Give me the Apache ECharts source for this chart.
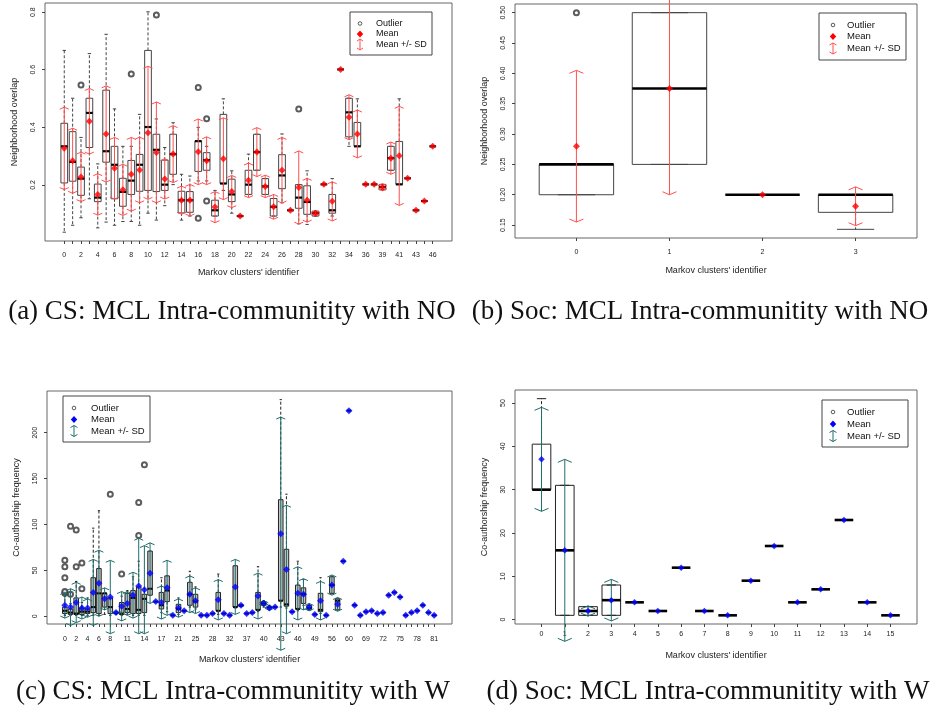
<!DOCTYPE html>
<html><head><meta charset="utf-8">
<script src="https://cdn.jsdelivr.net/npm/echarts@6/dist/echarts.min.js"></script>
<style>html,body{margin:0;padding:0;background:#fff}#c{width:933px;height:713px}</style>
</head><body><div id="c"></div><script>
// ---------- Panel (a): CS, NO ----------
const aLabels = ['0','1','2','3','4','5','6','7','8','9','10','11','12','13','14','15','16','17','18','19','20','21','22','23','24','25','26','27','28','29','30','31','32','33','34','35','36','37','39','40','41','42','43','45','46'];
const aLow  = [.036,.060,.086,.152,.051,.071,.060,.073,.073,.060,.102,.078,.128,.201,.078,.092,.214,.214,.092,.181,.102,.092,.167,.251,.167,.092,.138,.112,.065,.063,.092,.202,.092,.601,.334,.334,.202,.202,.183,.251,.202,.223,.112,.144,.334];
const aQ1   = [.207,.213,.164,.330,.142,.279,.152,.126,.167,.178,.181,.177,.181,.237,.103,.105,.247,.251,.092,.205,.142,.092,.167,.251,.167,.092,.187,.112,.119,.098,.092,.202,.102,.601,.367,.334,.202,.202,.183,.251,.202,.223,.112,.144,.334];
const aMed  = [.334,.280,.222,.450,.156,.317,.270,.176,.215,.270,.401,.322,.201,.307,.147,.147,.352,.286,.112,.205,.167,.092,.201,.314,.195,.124,.233,.112,.156,.141,.102,.202,.112,.601,.452,.334,.202,.202,.193,.293,.202,.223,.112,.144,.334];
const aQ3   = [.414,.385,.262,.501,.203,.529,.334,.223,.285,.306,.667,.376,.286,.376,.178,.177,.352,.312,.147,.445,.220,.092,.251,.376,.222,.153,.305,.112,.201,.197,.109,.202,.167,.601,.501,.417,.202,.202,.202,.334,.351,.223,.112,.144,.334];
const aHigh = [.667,.501,.365,.656,.273,.723,.464,.334,.334,.445,.801,.429,.330,.416,.237,.231,.400,.334,.181,.499,.249,.092,.307,.376,.222,.153,.377,.112,.201,.249,.109,.202,.222,.601,.501,.499,.202,.202,.202,.334,.499,.223,.112,.144,.334];
const aMean = [.327,.284,.228,.421,.167,.377,.258,.183,.237,.252,.381,.313,.221,.307,.147,.147,.315,.284,.123,.291,.177,.092,.216,.314,.195,.124,.251,.112,.191,.147,.102,.202,.143,.601,.435,.377,.202,.202,.192,.293,.301,.223,.112,.144,.334];
const aSD   = [.143,.113,.086,.114,.072,.167,.107,.089,.128,.114,.231,.175,.070,.099,.049,.055,.114,.083,.054,.142,.056,0,.060,.085,.039,.043,.114,0,.127,.076,.009,0,.068,0,.078,.083,0,0,.012,.056,.172,0,0,0,0];
const aOutliers = [[2,.547],[8,.585],[11,.790],[16,.538],[16,.084],[17,.430],[17,.144],[28,.464]];
const aYTicks = [0.2,0.4,0.6,0.8];

// ---------- Panel (b): Soc, NO ----------
const bLabels = ['0','1','2','3'];
const bLow  = [0.20,0.25,0.20,0.143];
const bQ1   = [0.20,0.25,0.20,0.171];
const bMed  = [0.25,0.375,0.20,0.20];
const bQ3   = [0.25,0.50,0.20,0.20];
const bHigh = [0.25,0.50,0.20,0.20];
const bMean = [0.28,0.375,0.20,0.181];
const bSD   = [0.125,0.175,0,0.032];
const bOutliers = [[0,0.50]];
const bYTicks = [0.15,0.20,0.25,0.30,0.35,0.40,0.45,0.50];

// ---------- Panel (c): CS, W ----------
const cLabels = ['0','1','2','3','4','5','6','7','8','9','10','11','12','13','14','15','16','17','19','20','21','23','24','25','26','27','28','30','31','32','34','35','37','38','39','40','41','42','43','44','45','46','47','48','49','51','53','56','58','59','60','63','66','69','70','71','72','73','74','75','76','77','78','79','80','81'];
const cLow  = [1,1,1,1,1,1,1,2,1,2,1,2,1,1,1,23,16,4,5,1,2,6,10,8,1,1,3,2,3,1,9,11,3,4,5,10,8,10,10,9,5,6,12,7,2,3,1,25,7,60,224,12,1,5,6,3,4,23,26,21,1,4,6,12,4,1];
const cQ1   = [3,2,2,2,3,4,3,10,3,3,2,4,3,3,4,23,16,8,16,1,4,6,12,10,1,1,3,6,3,1,10,11,3,4,7,12,9,10,17,11,5,8,14,7,2,5,1,25,7,60,224,12,1,5,6,3,4,23,26,21,1,4,6,12,4,1];
const cMed  = [6,4,3,5,5,10,25,25,10,4,3,8,20,7,19,30,16,12,28,1,8,6,24,16,1,1,3,6,3,1,10,12,3,4,7,14,10,10,17,13,5,8,24,9,2,7,1,34,17,60,224,12,1,5,6,3,4,23,26,21,1,4,6,12,4,1];
const cQ3   = [10,8,20,9,8,42,52,25,20,4,15,25,28,32,24,71,16,26,44,1,13,6,37,24,1,1,3,26,3,1,55,12,3,4,26,16,11,10,127,73,5,34,31,12,2,25,1,43,19,60,224,12,1,5,6,3,4,23,26,21,1,4,6,12,4,1];
const cHigh = [22,14,38,15,20,96,115,25,20,5,22,28,43,60,30,71,16,42,44,1,20,6,49,32,1,1,3,46,3,1,55,12,3,4,54,17,12,10,236,133,5,60,40,12,2,42,1,43,19,60,224,12,1,5,6,3,4,23,26,21,1,4,6,12,4,1];
const cMean = [12,10,15,9,9,26,36,19,21,4,11,14,23,33,29,47,16,15,31,1,9,6,24,17,1,1,3,18,3,1,32,12,3,4,22,14,9,10,90,51,5,25,24,10,2,17,1,34,13,60,224,12,1,5,6,3,4,23,26,21,1,4,6,12,4,1];
const cSD   = [14,20,22,12,10,36,36,12,40,1,16,13,25,52,48,33,0,18,30,0,10,0,20,14,0,0,0,22,0,0,30,0,0,0,25,3,2.5,0,127,70,0,29,17,4,0,21,0,11,7.5,0,0,0,0,0,0,0,0,0,0,0,0,0,0,0,0,0];
const cOutliers = [[0,25],[0,27],[0,42],[0,54],[0,61],[1,24],[1,98],[2,54],[2,94],[3,30],[3,58],[8,133],[10,46],[13,88],[13,124],[14,165]];
const cYTicks = [0,50,100,150,200];

// ---------- Panel (d): Soc, W ----------
const dLabels = ['0','1','2','3','4','5','6','7','8','9','10','11','12','13','14','15'];
const dLow  = [30,1,1,1,4,2,12,2,1,9,17,4,7,23,4,1];
const dQ1   = [30,1,1,1,4,2,12,2,1,9,17,4,7,23,4,1];
const dMed  = [30,16,2,4.5,4,2,12,2,1,9,17,4,7,23,4,1];
const dQ3   = [40.5,31,3,8,4,2,12,2,1,9,17,4,7,23,4,1];
const dHigh = [51,31,3,8,4,2,12,2,1,9,17,4,7,23,4,1];
const dMean = [37,16,2,4.5,4,2,12,2,1,9,17,4,7,23,4,1];
const dSD   = [12,21,1.2,4.8,0,0,0,0,0,0,0,0,0,0,0,0];
const dOutliers = [];
const dYTicks = [0,10,20,30,40,50];

// ---------- helpers ----------
const FONT = 'Liberation Sans';
function rLim(lo, hi, outs){
  let mn = Math.min(...lo, ...outs.map(o=>o[1]));
  let mx = Math.max(...hi, ...outs.map(o=>o[1]));
  const p = (mx-mn)*0.04; return [mn-p, mx+p];
}
function renderBox(o){
  return function(params, api){
    const i=api.value(0), lo=api.value(1), q1=api.value(2), md=api.value(3), q3=api.value(4), hi=api.value(5);
    const hw = api.size([0.8,0])[0]/2, sw = hw/2;
    const x = api.coord([i, md])[0];
    const Y = v => api.coord([i, v])[1];
    const ch = [];
    const st = {stroke:o.stroke, lineWidth:1};
    if (hi > q3) ch.push({type:'line', shape:{x1:x,y1:Y(q3),x2:x,y2:Y(hi)}, style:{stroke:o.stroke,lineWidth:1,lineDash:[3,2]}});
    if (lo < q1) ch.push({type:'line', shape:{x1:x,y1:Y(q1),x2:x,y2:Y(lo)}, style:{stroke:o.stroke,lineWidth:1,lineDash:[3,2]}});
    ch.push({type:'line', shape:{x1:x-sw,y1:Y(hi),x2:x+sw,y2:Y(hi)}, style:st});
    ch.push({type:'line', shape:{x1:x-sw,y1:Y(lo),x2:x+sw,y2:Y(lo)}, style:st});
    if (q3 > q1) ch.push({type:'rect', shape:{x:x-hw,y:Y(q3),width:2*hw,height:Y(q1)-Y(q3)}, style:{fill:o.fill,stroke:o.stroke,lineWidth:1}});
    ch.push({type:'line', shape:{x1:x-hw,y1:Y(md),x2:x+hw,y2:Y(md)}, style:{stroke:'#000',lineWidth:o.medW}});
    return {type:'group', children:ch};
  };
}
function renderSD(o){
  return function(params, api){
    const i=api.value(0), mu=api.value(1), s=api.value(2);
    if (!(s>0)) return {type:'group', children:[]};
    const x=api.coord([i,mu])[0], yt=api.coord([i,mu+s])[1], yb=api.coord([i,mu-s])[1];
    const w=o.aw, h=o.ah, st={stroke:o.color,lineWidth:1,fill:null};
    return {type:'group', children:[
      {type:'line', shape:{x1:x,y1:yt,x2:x,y2:yb}, style:st},
      {type:'polyline', shape:{points:[[x-w,yt+h],[x,yt],[x+w,yt+h]]}, style:st},
      {type:'polyline', shape:{points:[[x-w,yb-h],[x,yb],[x+w,yb-h]]}, style:st}
    ]};
  };
}
function panelSeries(k, labels, lo, q1, md, q3, hi, mean, sd, outs, o){
  const boxData = labels.map((l,i)=>[i, lo[i], q1[i], md[i], q3[i], hi[i]]);
  const sdData = labels.map((l,i)=>[i, mean[i], sd[i]]);
  const mData = labels.map((l,i)=>[i, mean[i]]);
  return [
    {type:'custom', xAxisIndex:k, yAxisIndex:k, renderItem:renderBox(o), data:boxData, z:2, silent:true},
    {type:'scatter', xAxisIndex:k, yAxisIndex:k, data:outs, symbol:'emptyCircle', symbolSize:o.outSize,
      itemStyle:{color:'#333', borderWidth:0.8}, z:3, silent:true},
    {type:'custom', xAxisIndex:k, yAxisIndex:k, renderItem:renderSD(o), data:sdData, z:4, silent:true},
    {type:'scatter', xAxisIndex:k, yAxisIndex:k, data:mData, symbol:'diamond', symbolSize:o.meanSize,
      itemStyle:{color:o.meanColor}, z:5, silent:true}
  ];
}
function xAxisFor(k, labels, showIdx, o){
  const n = labels.length;
  return {type:'value', gridIndex:k, min:-0.5-0.04*n, max:n-0.5+0.04*n,
    axisLine:{show:false, onZero:false}, splitLine:{show:false},
    axisTick:{show:true, customValues:labels.map((l,i)=>i), length:3, lineStyle:{color:'#444'}},
    axisLabel:{customValues:showIdx, formatter:v=>labels[Math.round(v)], fontSize:7, color:'#222', margin:o.lm, fontFamily:FONT},
    name:"Markov clusters' identifier", nameLocation:'middle', nameGap:o.ng,
    nameTextStyle:{fontSize:9, color:'#222', fontFamily:FONT}};
}
function yAxisFor(k, lim, ticks, dec, name, o){
  return {type:'value', gridIndex:k, min:lim[0], max:lim[1],
    axisLine:{show:false, onZero:false}, splitLine:{show:false},
    axisTick:{show:true, customValues:ticks, length:3, lineStyle:{color:'#444'}},
    axisLabel:{customValues:ticks, rotate:90, formatter:v=>Number(v).toFixed(dec), fontSize:7, color:'#222', margin:o.lm, fontFamily:FONT},
    name:name, nameLocation:'middle', nameGap:o.ng, nameRotate:90,
    nameTextStyle:{fontSize:9, color:'#222', fontFamily:FONT}};
}
function legend(x1,y1,x2,y2,symX,txtX,rows,meanColor,sdColor,fs,aw){
  const ch = [{type:'rect', shape:{x:x1,y:y1,width:x2-x1,height:y2-y1}, style:{fill:'#fff',stroke:'#444',lineWidth:1}}];
  ch.push({type:'circle', shape:{cx:symX,cy:rows[0],r:1.8}, style:{fill:'none',stroke:'#333',lineWidth:0.8}});
  ch.push({type:'polygon', shape:{points:[[symX,rows[1]-3.4],[symX+3.2,rows[1]],[symX,rows[1]+3.4],[symX-3.2,rows[1]]]}, style:{fill:meanColor}});
  const t=rows[2]-5.5, b=rows[2]+5.5, st={stroke:sdColor,lineWidth:1,fill:null};
  ch.push({type:'line', shape:{x1:symX,y1:t,x2:symX,y2:b}, style:st});
  ch.push({type:'polyline', shape:{points:[[symX-aw,t+2],[symX,t],[symX+aw,t+2]]}, style:st});
  ch.push({type:'polyline', shape:{points:[[symX-aw,b-2],[symX,b],[symX+aw,b-2]]}, style:st});
  ['Outlier','Mean','Mean +/- SD'].forEach((s,i)=>ch.push({type:'text', style:{x:txtX,y:rows[i],text:s,fontSize:fs,fontFamily:FONT,fill:'#111',textVerticalAlign:'middle',textAlign:'left'}}));
  return {type:'group', children:ch, z:10};
}
function caption(cx, cy, s){
  return {type:'text', style:{x:cx,y:cy,text:s,fontSize:27,fontFamily:'Liberation Serif',fill:'#111',textAlign:'center',textVerticalAlign:'middle'}};
}

const aLim = rLim(aLow, aHigh, aOutliers), bLim = rLim(bLow, bHigh, bOutliers), cLim = rLim(cLow, cHigh, cOutliers), dLim = rLim(dLow, dHigh, dOutliers);
const redOpt = {stroke:'#444', fill:'none', medW:2.2, color:'#ff5050', aw:4.5, ah:2, outSize:5, meanSize:7, meanColor:'#ff0000'};
const bOpt = Object.assign({}, redOpt, {medW:2.6, aw:7, ah:3});
const cOpt = {stroke:'#222', fill:'#c4c4c4', medW:2, color:'#1f6e6b', aw:4.5, ah:2, outSize:5, meanSize:7, meanColor:'#0000ff'};
const dOpt = Object.assign({}, cOpt, {fill:'none', medW:2.6, aw:7, ah:3, meanSize:6.5});

const option = {
  animation:false,
  backgroundColor:'#fff',
  grid:[
    {left:45, top:3, width:407, height:238, show:true, borderColor:'#666', borderWidth:1},
    {left:515, top:4, width:402, height:234, show:true, borderColor:'#666', borderWidth:1},
    {left:47, top:391, width:405, height:233, show:true, borderColor:'#666', borderWidth:1},
    {left:515, top:390, width:402, height:234, show:true, borderColor:'#666', borderWidth:1}
  ],
  xAxis:[
    xAxisFor(0, aLabels, aLabels.map((l,i)=>i).filter(i=>i%2===0), {lm:11, ng:27}),
    xAxisFor(1, bLabels, bLabels.map((l,i)=>i), {lm:11, ng:28}),
    xAxisFor(2, cLabels, [0,2,4,6,8,11,14,17,20,23,26,29,32,35,38,41,44,47,50,53,56,59,62,65], {lm:12, ng:31}),
    xAxisFor(3, dLabels, dLabels.map((l,i)=>i), {lm:7, ng:27})
  ],
  yAxis:[
    yAxisFor(0, aLim, aYTicks, 1, 'Neighborhood overlap', {lm:8, ng:26}),
    yAxisFor(1, bLim, bYTicks, 2, 'Neighborhood overlap', {lm:8, ng:26}),
    yAxisFor(2, cLim, cYTicks, 0, 'Co-authorship frequency', {lm:8, ng:26}),
    yAxisFor(3, dLim, dYTicks, 0, 'Co-authorship frequency', {lm:8, ng:26})
  ],
  series:[
    ...panelSeries(0, aLabels, aLow, aQ1, aMed, aQ3, aHigh, aMean, aSD, aOutliers, redOpt),
    ...panelSeries(1, bLabels, bLow, bQ1, bMed, bQ3, bHigh, bMean, bSD, bOutliers, bOpt),
    ...panelSeries(2, cLabels, cLow, cQ1, cMed, cQ3, cHigh, cMean, cSD, cOutliers, cOpt),
    ...panelSeries(3, dLabels, dLow, dQ1, dMed, dQ3, dHigh, dMean, dSD, dOutliers, dOpt)
  ],
  graphic:[
    legend(350,12,432,55,360,376,[23.5,34,44.5],'#ff0000','#ff5050',9,3),
    legend(819,13,906,60,833,847,[25,36.5,48.5],'#ff0000','#ff5050',9.5,3.5),
    legend(63,396,150,442,74,91,[408,419.5,431],'#0000ff','#1f6e6b',9.5,3.5),
    legend(822,400,908,447,833,847,[412,424,436],'#0000ff','#1f6e6b',9.5,3.5),
    caption(232,312,'(a) CS: MCL Intra-communitity with NO'),
    caption(700,312,'(b) Soc: MCL Intra-communitity with NO'),
    caption(233,692,'(c) CS: MCL Intra-communitity with W'),
    caption(708,692,'(d) Soc: MCL Intra-communitity with W')
  ]
};
const chart = echarts.init(document.getElementById('c'), null, {renderer:'canvas'});
chart.setOption(option);
</script></body></html>
